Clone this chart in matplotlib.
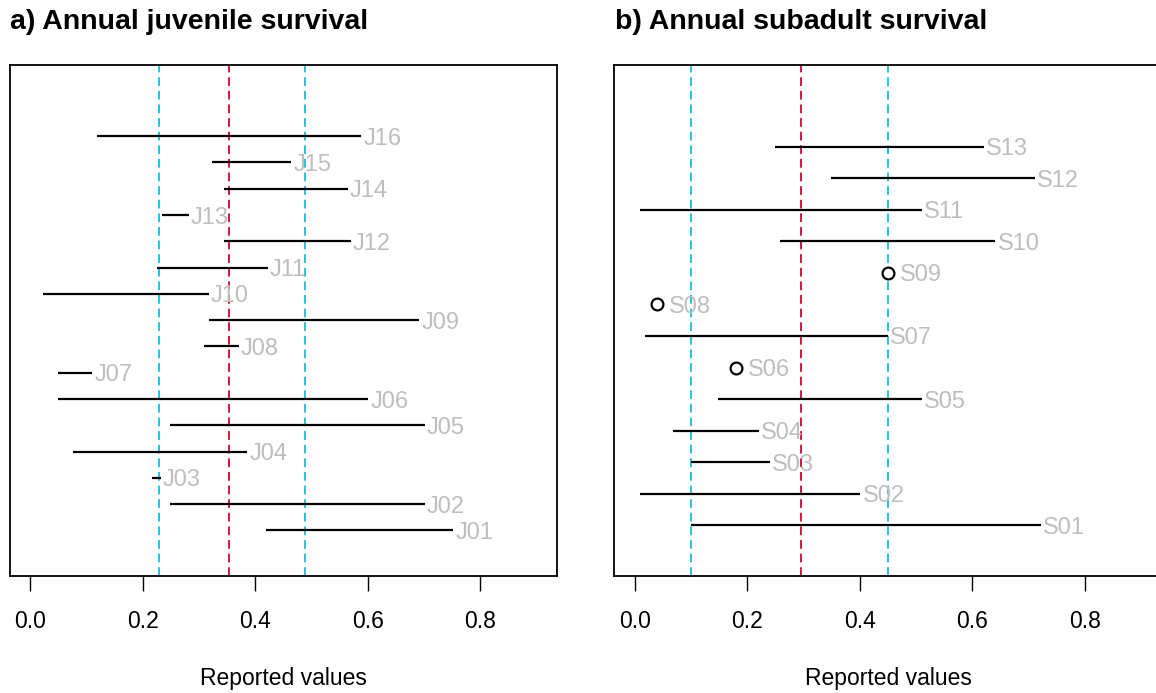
import matplotlib
matplotlib.use("Agg")
import matplotlib.pyplot as plt

plt.rcParams['font.family'] = ['Liberation Sans', 'DejaVu Sans']

# a) juvenile survival, J01..J16
juv_ids = ['J01', 'J02', 'J03', 'J04', 'J05', 'J06', 'J07', 'J08',
           'J09', 'J10', 'J11', 'J12', 'J13', 'J14', 'J15', 'J16']
juv_lo = [0.419, 0.249, 0.217, 0.077, 0.249, 0.049, 0.049, 0.309,
          0.318, 0.024, 0.226, 0.344, 0.234, 0.344, 0.323, 0.119]
juv_hi = [0.752, 0.701, 0.232, 0.386, 0.701, 0.601, 0.111, 0.371,
          0.691, 0.318, 0.422, 0.570, 0.282, 0.564, 0.464, 0.588]
juv_mean = 0.353
juv_band = [0.230, 0.488]

# b) subadult survival, S01..S13 (lo == hi means a single reported value)
sub_ids = ['S01', 'S02', 'S03', 'S04', 'S05', 'S06', 'S07',
           'S08', 'S09', 'S10', 'S11', 'S12', 'S13']
sub_lo = [0.100, 0.009, 0.100, 0.069, 0.149, 0.180, 0.019,
          0.040, 0.450, 0.259, 0.009, 0.349, 0.249]
sub_hi = [0.721, 0.401, 0.241, 0.221, 0.511, 0.180, 0.450,
          0.040, 0.450, 0.641, 0.511, 0.711, 0.621]
sub_mean = 0.295
sub_band = [0.100, 0.450]

xticks = [0.0, 0.2, 0.4, 0.6, 0.8]
CYAN = '#22C4E2'
RED = '#DC143C'
GREY = '#BEBEBE'

W, H = 1156, 693
fig = plt.figure(figsize=(W / 100, H / 100), dpi=100)


def panel(left_px, ids, lo, hi, mean, band, title):
    ax = fig.add_axes([left_px / W, (H - 575.7) / H, 547.3 / W, 511.0 / H])
    n = len(ids)
    ax.set_xlim(-0.036, 0.936)
    ax.set_ylim(-0.04 * (n + 2), (n + 2) * 1.04)
    for v in band:
        ax.axvline(v, color=CYAN, lw=1.4, ls=(0, (4.5, 2.5)), zorder=1)
    ax.axvline(mean, color=RED, lw=1.4, ls=(0, (4.5, 2.5)), zorder=1)
    for i, (name, a, b) in enumerate(zip(ids, lo, hi)):
        y = i + 1
        if a == b:
            ax.plot(a, y, 'o', ms=8.5, mfc='white', mec='black', mew=1.6, zorder=3)
            off = 8.5
        else:
            ax.plot([a, b], [y, y], color='black', lw=1.6, solid_capstyle='butt', zorder=2)
            off = 1.5
        ax.annotate(name, (b, y), xytext=(off, 0), textcoords='offset points',
                    ha='left', va='center_baseline', color=GREY, fontsize=17, zorder=4)
    ax.set_yticks([])
    ax.set_xticks(xticks)
    ax.set_xticklabels(['%.1f' % t for t in xticks])
    ax.tick_params(axis='x', length=11, width=1, pad=14, labelsize=16.5)
    ax.set_xlabel('Reported values', fontsize=16.5, labelpad=24.5)
    for s in ax.spines.values():
        s.set_linewidth(1.3)
    fig.text((left_px + 0.5) / W, 1 - 22 / H, title, fontsize=20.5, fontweight='bold',
             ha='left', va='center')
    return ax


panel(9.7, juv_ids, juv_lo, juv_hi, juv_mean, juv_band, 'a) Annual juvenile survival')
panel(614.3, sub_ids, sub_lo, sub_hi, sub_mean, sub_band, 'b) Annual subadult survival')

fig.savefig('out.png', dpi=100)
